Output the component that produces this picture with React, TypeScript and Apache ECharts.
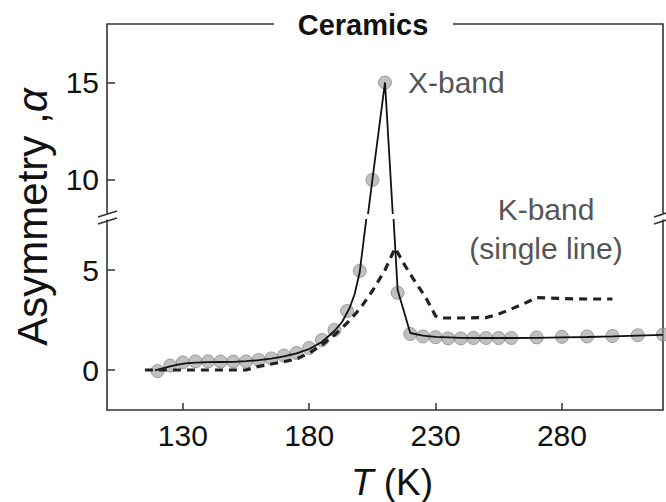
import React, { useEffect, useRef } from "react";
import * as echarts from "echarts";

// X-band measured points (T in K, asymmetry)
const X_T = [120, 125, 130, 135, 140, 145, 150, 155, 160, 165, 170, 175, 180, 185, 190, 195, 200, 205, 210, 215, 220, 225, 230, 235, 240, 245, 250, 255, 260, 270, 280, 290, 300, 310, 320];
const X_V = [-0.05, 0.22, 0.38, 0.43, 0.43, 0.42, 0.42, 0.43, 0.5, 0.58, 0.72, 0.85, 1.1, 1.5, 2.0, 2.95, 4.96, 10, 15, 3.86, 1.8, 1.68, 1.64, 1.58, 1.58, 1.6, 1.6, 1.6, 1.6, 1.63, 1.66, 1.68, 1.7, 1.74, 1.77];

// X-band fit (solid line)
const FIT_T = [119, 122, 125, 128, 131, 135, 140, 145, 150, 155, 160, 165, 170, 175, 180, 185, 190, 193, 196, 198, 200, 205, 210, 215, 220, 225, 230, 240, 250, 260, 270, 280, 290, 300, 310, 320];
const FIT_V = [-0.02, 0.08, 0.18, 0.27, 0.33, 0.37, 0.39, 0.4, 0.41, 0.44, 0.49, 0.57, 0.68, 0.83, 1.05, 1.4, 1.95, 2.4, 3.1, 3.8, 4.9, 10, 15, 4.0, 1.85, 1.72, 1.66, 1.61, 1.6, 1.6, 1.61, 1.63, 1.65, 1.68, 1.72, 1.76];

// K-band (single line), dashed
const K_T = [115, 155, 160, 165, 170, 175, 180, 185, 190, 195, 200, 205, 210, 214, 218, 222, 226, 230, 232, 240, 250, 255, 260, 265, 270, 275, 280, 290, 300];
const K_V = [0, 0, 0.18, 0.3, 0.42, 0.55, 0.85, 1.25, 1.75, 2.35, 3.05, 3.95, 5.0, 6.1, 5.2, 4.4, 3.65, 2.7, 2.6, 2.6, 2.62, 2.8, 3.05, 3.32, 3.62, 3.6, 3.57, 3.55, 3.55];

const X_TICKS = [130, 180, 230, 280];
const Y_TICKS_UPPER = [10, 15];
const Y_TICKS_LOWER = [0, 5];

const FONT = "Liberation Sans, Arial, sans-serif";
const AXIS_COLOR = "#333";

export default function App() {
  const ref = useRef<HTMLDivElement>(null);

  useEffect(() => {
    if (!ref.current) return;
    const chart = echarts.init(ref.current, null, { renderer: "svg" });
    const pair = (xs: number[], ys: number[]) => xs.map((x, i) => [x, ys[i]]);
    const axisLine = { show: true, onZero: false, lineStyle: { color: AXIS_COLOR, width: 1.6 } };

    const yBase = (idx: number, min: number, max: number, ticks: number[]) => ({
      type: "value",
      gridIndex: idx,
      min,
      max,
      axisLine,
      axisTick: { show: true, inside: true, length: 8, customValues: ticks, lineStyle: { color: AXIS_COLOR, width: 1.5 } },
      axisLabel: { customValues: ticks, fontSize: 30, color: "#111", fontFamily: FONT, margin: 8 },
      splitLine: { show: false },
    });
    const yRight = (idx: number, min: number, max: number) => ({
      type: "value",
      gridIndex: idx,
      position: "right",
      min,
      max,
      axisLine,
      axisTick: { show: false },
      axisLabel: { show: false },
      splitLine: { show: false },
    });

    const mark = (x1: number, y1: number, x2: number, y2: number) => ({
      type: "line",
      shape: { x1, y1, x2, y2 },
      style: { stroke: AXIS_COLOR, lineWidth: 1.6 },
      z: 100,
    });

    chart.setOption({
      animation: false,
      backgroundColor: "#fff",
      grid: [
        { left: 107, right: 3, top: 24, height: 189 },
        { left: 107, right: 3, top: 220, height: 190 },
      ],
      xAxis: [
        { type: "value", gridIndex: 0, min: 100, max: 320, show: false },
        {
          type: "value",
          gridIndex: 1,
          min: 100,
          max: 320,
          axisLine,
          axisTick: { show: true, inside: true, length: 7, customValues: X_TICKS, lineStyle: { color: AXIS_COLOR, width: 1.5 } },
          axisLabel: { customValues: X_TICKS, fontSize: 30, color: "#111", fontFamily: FONT, margin: 10 },
          splitLine: { show: false },
        },
      ],
      yAxis: [
        yBase(0, 8.3, 18, Y_TICKS_UPPER),
        yBase(1, -2, 7.5, Y_TICKS_LOWER),
        yRight(0, 8.3, 18),
        yRight(1, -2, 7.5),
      ],
      series: [
        {
          type: "scatter",
          xAxisIndex: 0,
          yAxisIndex: 0,
          data: pair(X_T, X_V),
          symbolSize: 13,
          clip: true,
          itemStyle: { color: "rgba(150,150,150,0.75)", borderColor: "rgba(120,120,120,0.8)", borderWidth: 1 },
          z: 2,
        },
        {
          type: "scatter",
          xAxisIndex: 1,
          yAxisIndex: 1,
          data: pair(X_T, X_V),
          symbolSize: 13,
          clip: true,
          itemStyle: { color: "rgba(150,150,150,0.75)", borderColor: "rgba(120,120,120,0.8)", borderWidth: 1 },
          z: 2,
        },
        {
          type: "line",
          xAxisIndex: 0,
          yAxisIndex: 0,
          data: pair(FIT_T, FIT_V),
          showSymbol: false,
          clip: true,
          lineStyle: { color: "#111", width: 1.8 },
          z: 3,
        },
        {
          type: "line",
          xAxisIndex: 1,
          yAxisIndex: 1,
          data: pair(FIT_T, FIT_V),
          showSymbol: false,
          clip: true,
          lineStyle: { color: "#111", width: 1.8 },
          z: 3,
        },
        {
          type: "line",
          xAxisIndex: 1,
          yAxisIndex: 1,
          data: pair(K_T, K_V),
          showSymbol: false,
          clip: true,
          lineStyle: { color: "#222", width: 3.2, type: [8, 6] },
          z: 4,
        },
      ],
      graphic: [
        // top frame line with a gap for the title
        mark(107, 24, 274, 24),
        mark(453, 24, 663, 24),
        // axis break marks
        mark(98, 217, 117, 211),
        mark(98, 224, 117, 218),
        mark(654, 217, 673, 211),
        mark(654, 224, 673, 218),
        {
          type: "text",
          x: 363,
          y: 25,
          z: 100,
          style: { text: "Ceramics", font: `bold 29px ${FONT}`, fill: "#111", align: "center", verticalAlign: "middle" },
        },
        {
          type: "text",
          x: 408,
          y: 82,
          z: 100,
          style: { text: "X-band", font: `30px ${FONT}`, fill: "#555", align: "left", verticalAlign: "middle" },
        },
        {
          type: "text",
          x: 546,
          y: 209,
          z: 100,
          style: { text: "K-band", font: `30px ${FONT}`, fill: "#555", align: "center", verticalAlign: "middle" },
        },
        {
          type: "text",
          x: 546,
          y: 248,
          z: 100,
          style: { text: "(single line)", font: `30px ${FONT}`, fill: "#555", align: "center", verticalAlign: "middle" },
        },
        {
          type: "text",
          x: 392,
          y: 482,
          z: 100,
          style: {
            text: "{i|T} (K)",
            font: `37px ${FONT}`,
            fill: "#111",
            align: "center",
            verticalAlign: "middle",
            rich: { i: { font: `italic 37px ${FONT}`, fill: "#111" } },
          },
        },
        {
          type: "text",
          x: 32,
          y: 217,
          rotation: Math.PI / 2,
          z: 100,
          style: {
            text: "Asymmetry ,{i|α}",
            font: `42px ${FONT}`,
            fill: "#111",
            align: "center",
            verticalAlign: "middle",
            rich: { i: { font: `italic 42px ${FONT}`, fill: "#111" } },
          },
        },
      ],
    });
    return () => chart.dispose();
  }, []);

  return <div ref={ref} style={{ position: "fixed", left: 0, top: 0, width: 666, height: 502 }} />;
}
